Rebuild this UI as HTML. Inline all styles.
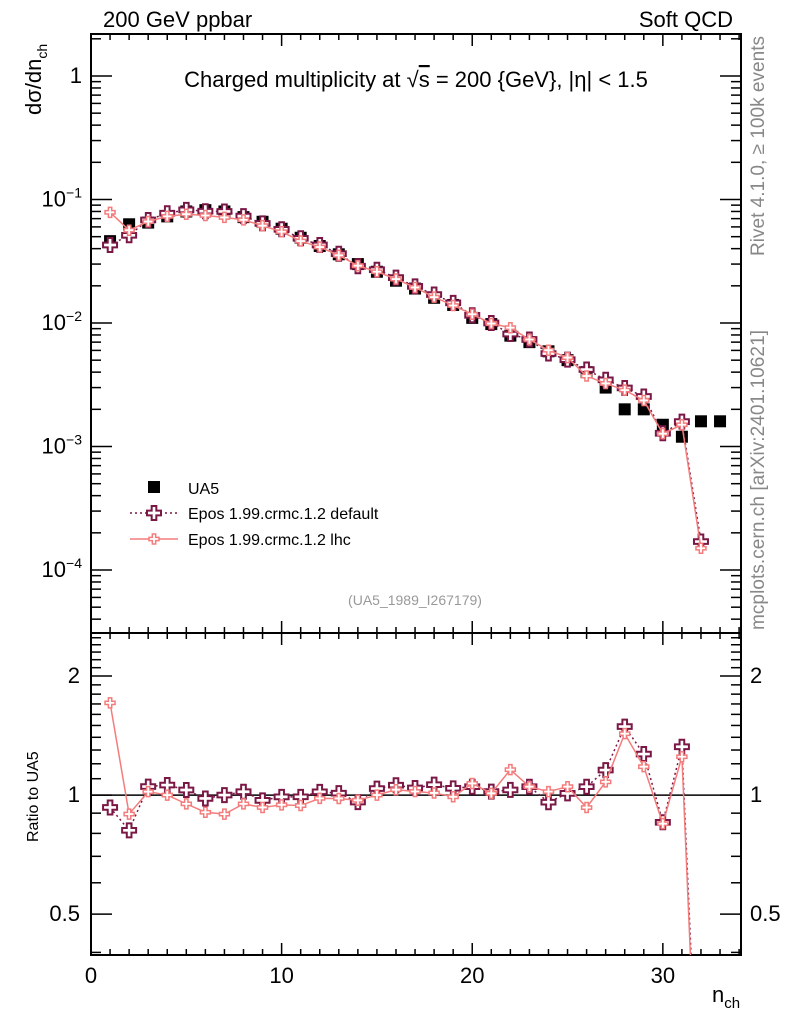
<!DOCTYPE html>
<html><head><meta charset="utf-8"><style>
html,body{margin:0;padding:0;background:#fff;overflow:hidden;width:786px;height:1024px;}
svg{display:block;font-family:"Liberation Sans",sans-serif;}
</style></head><body>
<svg id="c" width="786" height="1024" xmlns="http://www.w3.org/2000/svg"></svg>
<script>
const nch = [1,2,3,4,5,6,7,8,9,10,11,12,13,14,15,16,17,18,19,20,21,22,23,24,25,26,27,28,29,30,31,32,33];
const ua5 = [0.046,0.063,0.065,0.073,0.080,0.082,0.080,0.072,0.066,0.058,0.049,0.042,0.036,0.030,0.026,0.022,0.019,0.016,0.014,0.011,0.0098,0.0079,0.0070,0.0059,0.0050,0.0040,0.0030,0.0020,0.0020,0.0015,0.0012,0.0016,0.0016];
const eposDefault = [0.0428,0.0513,0.0683,0.0774,0.0824,0.0804,0.080,0.0734,0.064,0.0574,0.0485,0.0428,0.0364,0.0288,0.0270,0.0233,0.0198,0.0170,0.01456,0.01155,0.0100,0.00814,0.00735,0.00566,0.00505,0.0042,0.00347,0.00298,0.00254,0.00128,0.00159,0.00017];
const eposLhc = [0.0787,0.0564,0.0663,0.073,0.076,0.0742,0.0716,0.0684,0.0614,0.0548,0.0461,0.0412,0.0353,0.0291,0.026,0.0227,0.0194,0.0162,0.01386,0.01177,0.0099,0.00916,0.00735,0.00602,0.00525,0.00372,0.00324,0.00286,0.00236,0.00127,0.0015,0.00015];
const xTicks = [0,10,20,30];
const yMainTicks = [0,-1,-2,-3,-4];
const yRatioTicks = [0.5,1,2];

const NS="http://www.w3.org/2000/svg";
const svg=document.getElementById('c');
function mk(tag,attrs,parent){const e=document.createElementNS(NS,tag);for(const k in attrs)e.setAttribute(k,attrs[k]);(parent||svg).appendChild(e);return e;}
const L=91,R=741,T=34,M=633,B=955;
const XMIN=0,XMAX=34.1;
const YLMIN=-4.51,YLMAX=0.34;
const RLMIN=Math.log10(0.394),RLMAX=Math.log10(2.57);
function X(v){return L+(v-XMIN)/(XMAX-XMIN)*(R-L);}
function Y(v){return M-(Math.log10(v)-YLMIN)/(YLMAX-YLMIN)*(M-T);}
function YR(v){return B-(Math.log10(v)-RLMIN)/(RLMAX-RLMIN)*(B-M);}

const defs=mk('defs',{});
const c1=mk('clipPath',{id:'cm'},defs);mk('rect',{x:L,y:T,width:R-L,height:M-T},c1);
const c2=mk('clipPath',{id:'cr'},defs);mk('rect',{x:L,y:M,width:R-L,height:B-M},c2);

let f=mk('rect',{x:L,y:T,width:R-L,height:M-T,fill:'none',stroke:'#000','stroke-width':2});


f=mk('rect',{x:L,y:M,width:R-L,height:B-M,fill:'none',stroke:'#000','stroke-width':2});



for(let v=0;v<=34;v++){
  const x=X(v);const maj=v%10===0;const len=maj?12:6;
  mk('line',{x1:x,x2:x,y1:B,y2:B-len,stroke:'#000','stroke-width':1.5});
  mk('line',{x1:x,x2:x,y1:M,y2:M-len,stroke:'#000','stroke-width':1.5});
  mk('line',{x1:x,x2:x,y1:M,y2:M+len,stroke:'#000','stroke-width':1.5});
  mk('line',{x1:x,x2:x,y1:T,y2:T+len,stroke:'#000','stroke-width':1.5});
}
xTicks.forEach(v=>{const t=mk('text',{x:X(v),y:983,'font-size':22,'text-anchor':'middle'});t.textContent=v;

});
let t=mk('text',{x:712,y:1002,'font-size':22});t.innerHTML='n<tspan font-size="15" dy="6">ch</tspan>';



for(let d=-5;d<=0;d++){for(let m=1;m<10;m++){const v=m*Math.pow(10,d);const y=Y(v);if(y<T||y>M)continue;const len=m===1?21:10;
mk('line',{x1:L,x2:L+len,y1:y,y2:y,stroke:'#000','stroke-width':1.5});
mk('line',{x1:R,x2:R-len,y1:y,y2:y,stroke:'#000','stroke-width':1.5});}}
yMainTicks.forEach(d=>{const y=Y(Math.pow(10,d));const t=mk('text',{x:82,y:y+7,'font-size':22,'text-anchor':'end'});
if(d===0)t.textContent='1';else t.innerHTML='10<tspan font-size="14" dy="-9">−'+(-d)+'</tspan>';

});
for(let v=0.4;v<=2.6;v+=0.1){const vv=Math.round(v*10)/10;const y=YR(vv);if(y<M||y>B)continue;const maj=(vv===0.5||vv===1||vv===2);const len=maj?21:10;
mk('line',{x1:L,x2:L+len,y1:y,y2:y,stroke:'#000','stroke-width':1.5});
mk('line',{x1:R,x2:R-len,y1:y,y2:y,stroke:'#000','stroke-width':1.5});}
yRatioTicks.forEach(v=>{const y=YR(v);
let t=mk('text',{x:80,y:y+7,'font-size':22,'text-anchor':'end'});t.textContent=v;


t=mk('text',{x:750,y:y+7,'font-size':22});t.textContent=v;

});

function txt(x,y,s,html,name,extra){const t=mk('text',Object.assign({x:x,y:y,'font-size':s},extra||{}));t.innerHTML=html;

return t;}
txt(103,27,22,'200 GeV ppbar','header-left');
txt(733,27,22,'Soft QCD','header-right',{'text-anchor':'end'});
txt(416,87,22,'Charged multiplicity at √<tspan text-decoration="overline">s</tspan> = 200 {GeV}, |η| &lt; 1.5','plot-title',{'text-anchor':'middle'});
txt(0,0,22,'dσ/dn<tspan font-size="14" dy="6">ch</tspan>','y-axis-title',{transform:'translate(41,115) rotate(-90)'});
txt(0,0,16,'Ratio to UA5','ratio-axis-title',{transform:'translate(38,842) rotate(-90)'});
txt(0,0,19,'Rivet 4.1.0, ≥ 100k events','rivet-version-label',{transform:'translate(764,256) rotate(-90)',fill:'#888',textLength:220});
txt(0,0,19,'mcplots.cern.ch [arXiv:2401.10621]','mcplots-label',{transform:'translate(764,630) rotate(-90)',fill:'#888',textLength:300});
txt(415,605,14,'(UA5_1989_I267179)','analysis-id',{'text-anchor':'middle',fill:'#999'});

function cross(x,y,s,col,sw,g){const a=s/2,b=s/6;
return mk('path',{d:`M${x-b},${y-a}H${x+b}V${y-b}H${x+a}V${y+b}H${x+b}V${y+a}H${x-b}V${y+b}H${x-a}V${y-b}H${x-b}Z`,fill:'#fff',stroke:col,'stroke-width':sw},g);}
const DC='#7a1745',LC='#f47c7c';

mk('line',{x1:L,x2:R,y1:YR(1),y2:YR(1),stroke:'#000','stroke-width':1.5});

const gm=mk('g',{'clip-path':'url(#cm)'});


function series(g,vals,yf,col,dash,w,ms,msw,name){
  const pts=vals.map((v,i)=>[X(nch[i]),yf(v,i)]);
  const p=mk('polyline',{points:pts.map(p=>p.join(',')).join(' '),fill:'none',stroke:col,'stroke-width':w},g);
  if(dash)p.setAttribute('stroke-dasharray',dash);
  
  
  pts.forEach(q=>{const c=cross(q[0],q[1],ms,col,msw,g);
  
  });
}
ua5.forEach((v,i)=>{const r=mk('rect',{x:X(nch[i])-6,y:Y(v)-6,width:12,height:12,fill:'#000'},gm);

});
series(gm,eposDefault,v=>Y(v),DC,'2,3',1.5,14,2,'epos-default');
series(gm,eposLhc,v=>Y(v),LC,null,1.5,10,1.5,'epos-lhc');

const gr=mk('g',{'clip-path':'url(#cr)'});


series(gr,eposDefault,(v,i)=>YR(v/ua5[i]),DC,'2,3',1.5,14,2,'ratio-epos-default');
series(gr,eposLhc,(v,i)=>YR(v/ua5[i]),LC,null,1.5,10,1.5,'ratio-epos-lhc');

let g=mk('g',{});


let r=mk('rect',{x:148,y:481,width:12,height:12,fill:'#000'},g);


txt(188,494,16,'UA5','legend-ua5-label');
let l=mk('line',{x1:130,x2:178,y1:513,y2:513,stroke:DC,'stroke-width':1.5,'stroke-dasharray':'2,3'},g);


cross(154,513,14,DC,2,g);
txt(188,519,16,'Epos 1.99.crmc.1.2 default','legend-default-label');
l=mk('line',{x1:130,x2:178,y1:539,y2:539,stroke:LC,'stroke-width':1.5},g);


cross(154,539,10,LC,1.5,g);
txt(188,545,16,'Epos 1.99.crmc.1.2 lhc','legend-lhc-label');
</script>
</body></html>
